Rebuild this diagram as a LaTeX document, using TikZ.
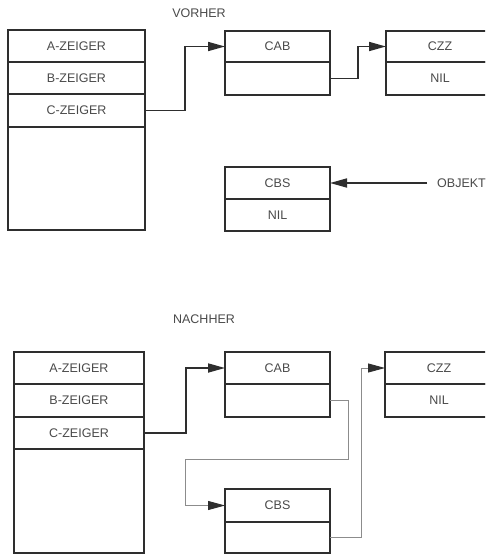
\documentclass[tikz,border=0pt]{standalone}
\usepackage{fontspec}
\setmainfont{Liberation Sans}
\usetikzlibrary{arrows.meta}
\definecolor{ink}{HTML}{2E2E2E}
\definecolor{txt}{HTML}{4A4A4A}
\tikzset{
  fld/.style={draw=ink, line width=1.7pt, rectangle, inner sep=0pt, outer sep=0pt,
    minimum width=#1, font=\fontsize{12.5}{14}\selectfont, text=txt},
  lbl/.style={font=\fontsize{12.5}{14}\selectfont, text=txt, inner sep=0pt},
  arr/.style={draw=ink, line width=1.7pt, -{Triangle[length=17pt,width=9pt]}},
  thinarr/.style={draw=black!45, line width=0.9pt, -{Triangle[length=17pt,width=9pt,color=ink]}}
}
\begin{document}
\begin{tikzpicture}[x=1pt,y=-1pt]
\useasboundingbox (0,0) rectangle (485,554);
\fill[white] (0,0) rectangle (485,554);
\clip (0,0) rectangle (485,554);
% ---------- VORHER ----------
\node[lbl] (vorher) at (199,13) {VORHER};
\node[fld=137, minimum height=32] (tA) at (76.5,46) {A-ZEIGER};
\node[fld=137, minimum height=32] (tB) at (76.5,78) {B-ZEIGER};
\node[fld=137, minimum height=33] (tC) at (76.5,110.5) {C-ZEIGER};
\node[fld=137, minimum height=103] (tD) at (76.5,178.5) {};
\node[fld=105, minimum height=31] (tCAB) at (277.5,46.5) {CAB};
\node[fld=105, minimum height=33] (tCABn) at (277.5,78.5) {};
\node[fld=108, minimum height=31] (tCZZ) at (440,46.5) {CZZ};
\node[fld=108, minimum height=33] (tNIL) at (440,78.5) {NIL};
\node[fld=105, minimum height=32] (tCBS) at (277.5,183) {CBS};
\node[fld=105, minimum height=32] (tCBSn) at (277.5,215) {NIL};
\node[lbl, anchor=west, inner xsep=10pt] (obj) at (427,183) {OBJEKT};
\draw[arr] (tC.east) -- ++(40,0) |- (tCAB.west);
\draw[arr] (tCABn.east) -- ++(28,0) |- (tCZZ.west);
\draw[arr] (obj.west) -- (tCBS.east);
% ---------- NACHHER ----------
\node[lbl] (nachher) at (204,319) {NACHHER};
\node[fld=130, minimum height=32] (bA) at (79,368) {A-ZEIGER};
\node[fld=130, minimum height=33] (bB) at (79,400.5) {B-ZEIGER};
\node[fld=130, minimum height=32] (bC) at (79,433) {C-ZEIGER};
\node[fld=130, minimum height=104] (bD) at (79,501) {};
\node[fld=105, minimum height=32] (bCAB) at (277.5,368) {CAB};
\node[fld=105, minimum height=33] (bCABn) at (277.5,400.5) {};
\node[fld=108, minimum height=32] (bCZZ) at (439,368) {CZZ};
\node[fld=108, minimum height=33] (bNIL) at (439,400.5) {NIL};
\node[fld=105, minimum height=33] (bCBS) at (277.5,505.5) {CBS};
\node[fld=105, minimum height=31] (bCBSn) at (277.5,537.5) {};
\coordinate (k1) at (348,459);
\coordinate (k2) at (185,459);
\draw[arr] (bC.east) -- ++(42,0) |- (bCAB.west);
\draw[thinarr] (bCABn.east) -| (k1) -- (k2) |- (bCBS.west);
\draw[thinarr] (bCBSn.east) -- ++(31,0) |- (bCZZ.west);
\end{tikzpicture}
\end{document}
